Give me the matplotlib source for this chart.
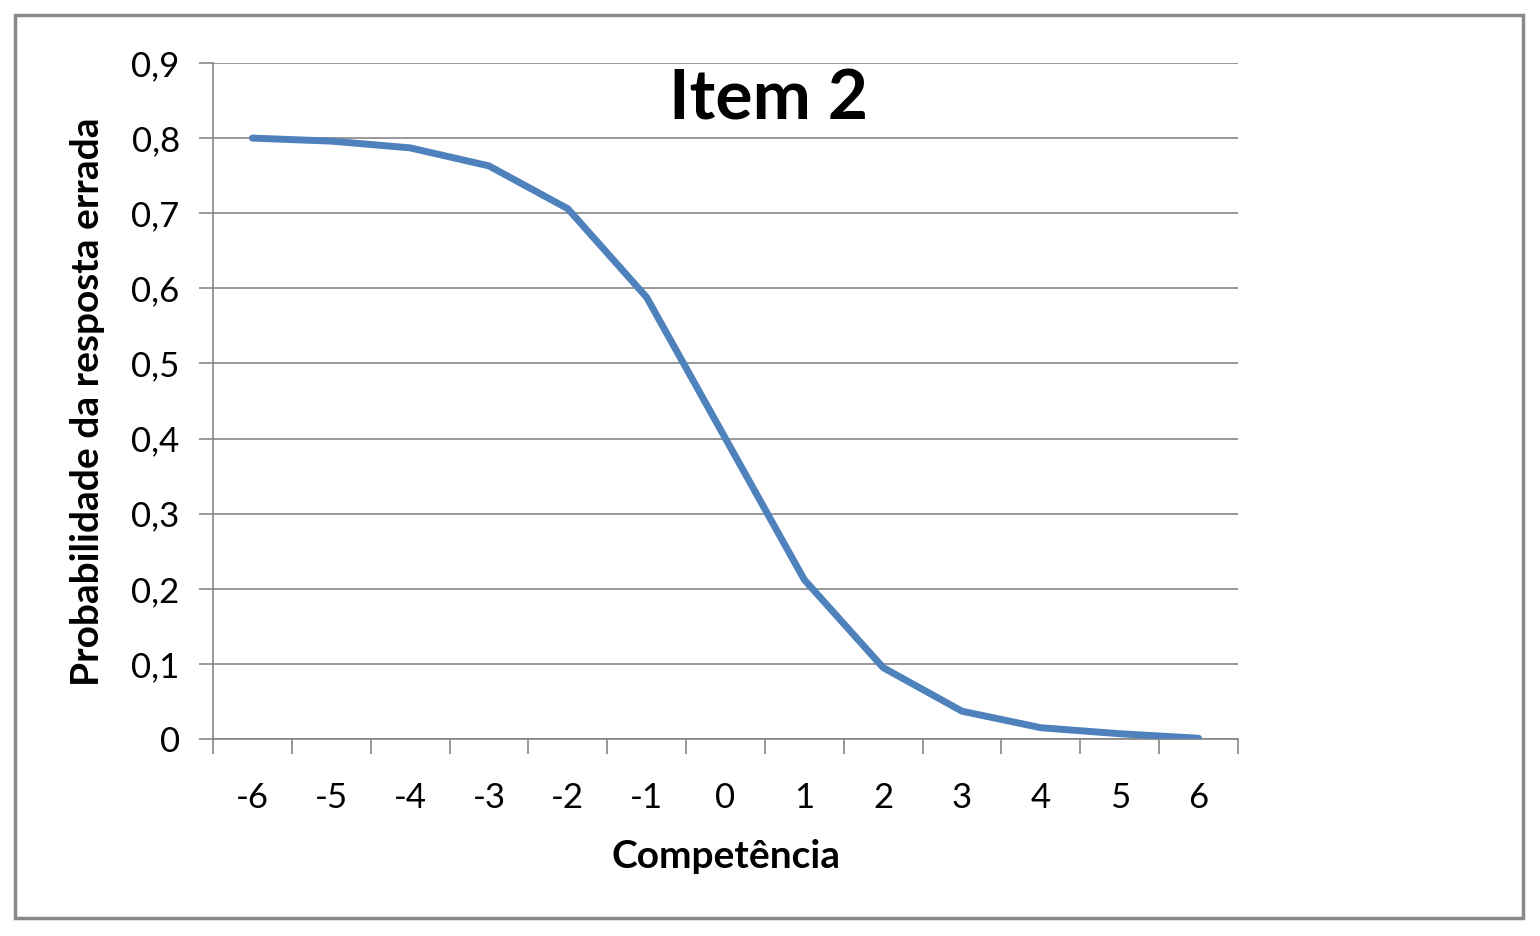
import matplotlib
matplotlib.use("Agg")
import matplotlib.pyplot as plt
from matplotlib.patches import Rectangle
import numpy as np

categories = ["-6", "-5", "-4", "-3", "-2", "-1", "0", "1", "2", "3", "4", "5", "6"]
values = [0.800, 0.796, 0.787, 0.763, 0.706, 0.588, 0.400, 0.212, 0.095, 0.037, 0.015, 0.007, 0.001]
yticks = [0, 0.1, 0.2, 0.3, 0.4, 0.5, 0.6, 0.7, 0.8, 0.9]
ytick_labels = ["0", "0,1", "0,2", "0,3", "0,4", "0,5", "0,6", "0,7", "0,8", "0,9"]

plt.rcParams['font.family'] = ['Lato', 'DejaVu Sans']
W, H = 1540, 936
fig = plt.figure(figsize=(W/100, H/100), dpi=100)
fig.patch.set_facecolor("white")

# outer chart border
fig.patches.append(Rectangle((15/W, 1 - 918/H), (1523-15)/W, (918-15)/H,
                             transform=fig.transFigure, fill=False,
                             edgecolor="#898989", linewidth=2.5))

left, right, top, bottom = 213, 1238, 63, 739
ax = fig.add_axes([left/W, 1 - bottom/H, (right-left)/W, (bottom-top)/H])

x = np.arange(len(categories))
ax.plot(x, values, color="#4F81BD", linewidth=5, solid_capstyle="round", solid_joinstyle="round", zorder=3)

ax.set_xlim(-0.5, len(categories) - 0.5)
ax.set_ylim(0, 0.9)

ax.set_yticks(yticks)
ax.set_yticklabels(ytick_labels)
ax.yaxis.grid(True, color="#868686", linewidth=1.2)
ax.set_axisbelow(True)

ax.set_xticks(x)
ax.set_xticklabels(categories)
ax.set_xticks(np.arange(-0.5, len(categories)), minor=True)
ax.tick_params(axis="x", which="major", length=0, pad=31, labelsize=25, colors="#000000")
ax.tick_params(axis="x", which="minor", length=11, width=1.2, color="#868686", direction="out")
ax.tick_params(axis="y", which="major", length=10, width=1.2, color="#868686", pad=14, labelsize=25)

for s in ["top", "right"]:
    ax.spines[s].set_visible(False)
for s in ["left", "bottom"]:
    ax.spines[s].set_color("#868686")
    ax.spines[s].set_linewidth(1.2)

ax.text(0.542, 0.945, "Item 2", transform=ax.transAxes, ha="center", va="center",
        fontsize=50, fontweight="bold")

fig.text(726/W, 1 - 857/H, "Competência", ha="center", va="center", fontsize=28, fontweight="bold")
fig.text(88/W, 1 - 402/H, "Probabilidade da resposta errada", ha="center", va="center",
         rotation=90, fontsize=28, fontweight="bold")

fig.savefig("out.png", dpi=100)
